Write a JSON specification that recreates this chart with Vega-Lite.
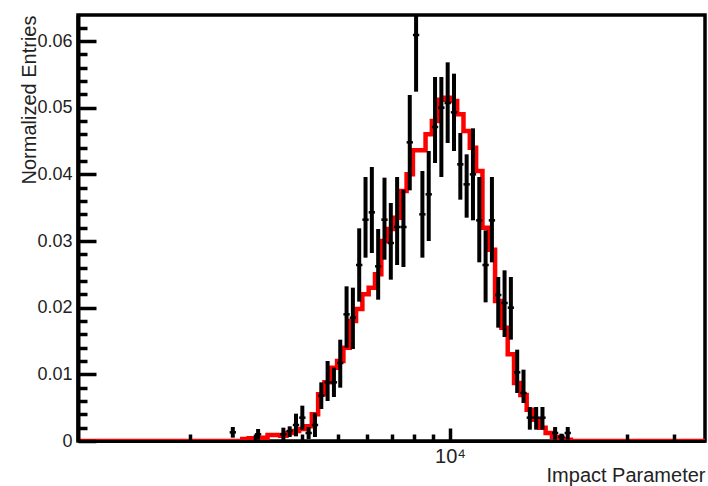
{
  "$schema": "https://vega.github.io/schema/vega-lite/v6.json",
  "width": 627,
  "height": 426,
  "autosize": {"type": "none"},
  "padding": {"left": 78, "top": 15, "right": 3, "bottom": 45},
  "background": "white",
  "config": {"view": {"stroke": "black", "strokeWidth": 3.5}, "font": "Liberation Sans"},
  "resolve": {"axis": {"x": "independent", "y": "independent"}},
  "datasets": {
    "hist": [
      {"x": 1000, "y": 0},
      {"x": 2765.1, "y": 0.0003},
      {"x": 2875.4, "y": 0.0004},
      {"x": 2990.1, "y": 0.0002},
      {"x": 3109.4, "y": 0.0005},
      {"x": 3233.5, "y": 0.0009},
      {"x": 3362.5, "y": 0.0009},
      {"x": 3496.7, "y": 0.0008},
      {"x": 3636.2, "y": 0.0012},
      {"x": 3781.3, "y": 0.0015},
      {"x": 3932.2, "y": 0.0018},
      {"x": 4089.1, "y": 0.0022},
      {"x": 4252.2, "y": 0.0040},
      {"x": 4421.9, "y": 0.0070},
      {"x": 4598.3, "y": 0.0088},
      {"x": 4781.8, "y": 0.0110},
      {"x": 4972.6, "y": 0.0120},
      {"x": 5171.0, "y": 0.0140},
      {"x": 5377.3, "y": 0.0180},
      {"x": 5591.8, "y": 0.0198},
      {"x": 5814.9, "y": 0.0220},
      {"x": 6046.9, "y": 0.0230},
      {"x": 6288.2, "y": 0.0250},
      {"x": 6539.1, "y": 0.0300},
      {"x": 6800.0, "y": 0.0318},
      {"x": 7071.3, "y": 0.0335},
      {"x": 7353.4, "y": 0.0375},
      {"x": 7646.8, "y": 0.0400},
      {"x": 7951.9, "y": 0.0436},
      {"x": 8269.1, "y": 0.0436},
      {"x": 8599.0, "y": 0.0460},
      {"x": 8942.1, "y": 0.0480},
      {"x": 9298.9, "y": 0.0512},
      {"x": 9669.9, "y": 0.0515},
      {"x": 10055.7, "y": 0.0510},
      {"x": 10456.9, "y": 0.0490},
      {"x": 10874.1, "y": 0.0465},
      {"x": 11307.9, "y": 0.0440},
      {"x": 11759.1, "y": 0.0405},
      {"x": 12228.2, "y": 0.0320},
      {"x": 12716.1, "y": 0.0287},
      {"x": 13223.4, "y": 0.0210},
      {"x": 13751.0, "y": 0.0170},
      {"x": 14299.6, "y": 0.0130},
      {"x": 14870.1, "y": 0.0087},
      {"x": 15463.4, "y": 0.0069},
      {"x": 16080.3, "y": 0.0047},
      {"x": 16721.9, "y": 0.0032},
      {"x": 17389.0, "y": 0.0020},
      {"x": 18082.8, "y": 0.0012},
      {"x": 18804.3, "y": 0.0006},
      {"x": 19554.5, "y": 0.0003},
      {"x": 20334.7, "y": 0.0002},
      {"x": 21146.0, "y": 0},
      {"x": 50000, "y": 0}
    ],
    "pts": [
      {"c": 2607.5, "lo": 2557.0, "hi": 2659.0, "y": 0.0013, "ylo": 0.0005, "yhi": 0.0021},
      {"c": 3049.2, "lo": 2990.1, "hi": 3109.4, "y": 0.0010, "ylo": 0.0002, "yhi": 0.0018},
      {"c": 3565.8, "lo": 3496.7, "hi": 3636.2, "y": 0.0010, "ylo": 0.0000, "yhi": 0.0020},
      {"c": 3708.0, "lo": 3636.2, "hi": 3781.3, "y": 0.0015, "ylo": 0.0006, "yhi": 0.0022},
      {"c": 3856.0, "lo": 3781.3, "hi": 3932.2, "y": 0.0024, "ylo": 0.0007, "yhi": 0.0041},
      {"c": 4009.9, "lo": 3932.2, "hi": 4089.1, "y": 0.0035, "ylo": 0.0017, "yhi": 0.0053},
      {"c": 4169.9, "lo": 4089.1, "hi": 4252.2, "y": 0.0012, "ylo": 0.0003, "yhi": 0.0021},
      {"c": 4336.2, "lo": 4252.2, "hi": 4421.9, "y": 0.0024, "ylo": 0.0006, "yhi": 0.0042},
      {"c": 4509.2, "lo": 4421.9, "hi": 4598.3, "y": 0.0068, "ylo": 0.0048, "yhi": 0.0088},
      {"c": 4689.1, "lo": 4598.3, "hi": 4781.8, "y": 0.0088, "ylo": 0.0060, "yhi": 0.0120},
      {"c": 4876.3, "lo": 4781.8, "hi": 4972.6, "y": 0.0088, "ylo": 0.0066, "yhi": 0.0110},
      {"c": 5070.8, "lo": 4972.6, "hi": 5171.0, "y": 0.0117, "ylo": 0.0080, "yhi": 0.0152},
      {"c": 5273.1, "lo": 5171.0, "hi": 5377.3, "y": 0.0190, "ylo": 0.0140, "yhi": 0.0232},
      {"c": 5483.5, "lo": 5377.3, "hi": 5591.8, "y": 0.0185, "ylo": 0.0138, "yhi": 0.0230},
      {"c": 5702.3, "lo": 5591.8, "hi": 5814.9, "y": 0.0264, "ylo": 0.0209, "yhi": 0.0319},
      {"c": 5929.8, "lo": 5814.9, "hi": 6046.9, "y": 0.0332, "ylo": 0.0275, "yhi": 0.0396},
      {"c": 6166.3, "lo": 6046.9, "hi": 6288.2, "y": 0.0343, "ylo": 0.0282, "yhi": 0.0411},
      {"c": 6412.4, "lo": 6288.2, "hi": 6539.1, "y": 0.0262, "ylo": 0.0212, "yhi": 0.0318},
      {"c": 6668.3, "lo": 6539.1, "hi": 6800.0, "y": 0.0332, "ylo": 0.0272, "yhi": 0.0395},
      {"c": 6934.3, "lo": 6800.0, "hi": 7071.3, "y": 0.0297, "ylo": 0.0242, "yhi": 0.0357},
      {"c": 7211.0, "lo": 7071.3, "hi": 7353.4, "y": 0.0321, "ylo": 0.0264, "yhi": 0.0396},
      {"c": 7498.7, "lo": 7353.4, "hi": 7646.8, "y": 0.0321, "ylo": 0.0261, "yhi": 0.0377},
      {"c": 7797.9, "lo": 7646.8, "hi": 7951.9, "y": 0.0448, "ylo": 0.0376, "yhi": 0.0519},
      {"c": 8109.0, "lo": 7951.9, "hi": 8269.1, "y": 0.0609, "ylo": 0.0524, "yhi": 0.0694},
      {"c": 8432.4, "lo": 8269.1, "hi": 8599.0, "y": 0.0340, "ylo": 0.0275, "yhi": 0.0405},
      {"c": 8768.9, "lo": 8599.0, "hi": 8942.1, "y": 0.0370, "ylo": 0.0300, "yhi": 0.0435},
      {"c": 9118.7, "lo": 8942.1, "hi": 9298.9, "y": 0.0471, "ylo": 0.0417, "yhi": 0.0546},
      {"c": 9482.6, "lo": 9298.9, "hi": 9669.9, "y": 0.0500, "ylo": 0.0396, "yhi": 0.0546},
      {"c": 9860.9, "lo": 9669.9, "hi": 10055.7, "y": 0.0507, "ylo": 0.0447, "yhi": 0.0568},
      {"c": 10254.3, "lo": 10055.7, "hi": 10456.9, "y": 0.0493, "ylo": 0.0435, "yhi": 0.0551},
      {"c": 10663.5, "lo": 10456.9, "hi": 10874.1, "y": 0.0415, "ylo": 0.0362, "yhi": 0.0462},
      {"c": 11088.9, "lo": 10874.1, "hi": 11307.9, "y": 0.0385, "ylo": 0.0335, "yhi": 0.0430},
      {"c": 11531.3, "lo": 11307.9, "hi": 11759.1, "y": 0.0400, "ylo": 0.0331, "yhi": 0.0469},
      {"c": 11991.4, "lo": 11759.1, "hi": 12228.2, "y": 0.0331, "ylo": 0.0268, "yhi": 0.0396},
      {"c": 12469.8, "lo": 12228.2, "hi": 12716.1, "y": 0.0264, "ylo": 0.0208, "yhi": 0.0316},
      {"c": 12967.3, "lo": 12716.1, "hi": 13223.4, "y": 0.0331, "ylo": 0.0268, "yhi": 0.0396},
      {"c": 13484.6, "lo": 13223.4, "hi": 13751.0, "y": 0.0219, "ylo": 0.0170, "yhi": 0.0246},
      {"c": 14022.6, "lo": 13751.0, "hi": 14299.6, "y": 0.0207, "ylo": 0.0156, "yhi": 0.0256},
      {"c": 14582.1, "lo": 14299.6, "hi": 14870.1, "y": 0.0200, "ylo": 0.0152, "yhi": 0.0246},
      {"c": 15163.8, "lo": 14870.1, "hi": 15463.4, "y": 0.0103, "ylo": 0.0072, "yhi": 0.0137},
      {"c": 15768.9, "lo": 15463.4, "hi": 16080.3, "y": 0.0072, "ylo": 0.0057, "yhi": 0.0107},
      {"c": 16397.9, "lo": 16080.3, "hi": 16721.9, "y": 0.0035, "ylo": 0.0017, "yhi": 0.0051},
      {"c": 17052.2, "lo": 16721.9, "hi": 17389.0, "y": 0.0035, "ylo": 0.0017, "yhi": 0.0051},
      {"c": 17732.5, "lo": 17389.0, "hi": 18082.8, "y": 0.0035, "ylo": 0.0017, "yhi": 0.0051},
      {"c": 19175.7, "lo": 18804.3, "hi": 19554.5, "y": 0.0012, "ylo": 0.0002, "yhi": 0.0021},
      {"c": 19940.8, "lo": 19554.5, "hi": 20334.7, "y": 0.0006, "ylo": 0.0001, "yhi": 0.0011},
      {"c": 20736.4, "lo": 20334.7, "hi": 21146.0, "y": 0.0012, "ylo": 0.0002, "yhi": 0.0021}
    ]
  },
  "layer": [
    {
      "data": {"name": "hist"},
      "mark": {"type": "line", "interpolate": "step-after", "color": "#ff0000", "strokeWidth": 4.5, "clip": true},
      "encoding": {
        "x": {
          "field": "x", "type": "quantitative",
          "scale": {"type": "log", "domain": [1000, 48500], "nice": false},
          "axis": {
            "orient": "bottom",
            "values": [10000],
            "title": "Impact Parameter",
            "titleFont": "Liberation Sans", "titleFontSize": 20, "titleFontWeight": "normal", "titleColor": "#222222",
            "titleAlign": "right", "titleAnchor": "end", "titleX": 627, "titleY": 40, "titleBaseline": "alphabetic",
            "domainColor": "black", "domainWidth": 3,
            "tickColor": "black", "tickWidth": 3.5, "tickSize": -13,
            "labelExpr": "'10⁴'",
            "labelFont": "Liberation Sans", "labelFontSize": 20, "labelColor": "#222222",
            "labelPadding": 18, "labelFlush": false, "labelOverlap": false,
            "grid": false, "zindex": 1
          }
        },
        "y": {
          "field": "y", "type": "quantitative",
          "scale": {"domain": [0, 0.0639], "nice": false, "zero": false},
          "axis": {
            "orient": "left",
            "values": [0, 0.01, 0.02, 0.03, 0.04, 0.05, 0.06],
            "title": "Normalized Entries",
            "titleFont": "Liberation Sans", "titleFontSize": 20, "titleFontWeight": "normal", "titleColor": "#222222",
            "titleX": -43, "titleY": 0, "titleAlign": "right", "titleBaseline": "alphabetic", "titleAngle": -90,
            "domainColor": "black", "domainWidth": 4,
            "tickColor": "black", "tickWidth": 3.5, "tickSize": -18,
            "labelExpr": "datum.value == 0 ? '0' : format(datum.value, '.2f')",
            "labelFont": "Liberation Sans", "labelFontSize": 18, "labelColor": "#222222",
            "labelPadding": 24, "labelFlush": false, "labelOverlap": false,
            "grid": false, "zindex": 1
          }
        }
      }
    },
    {
      "data": {"name": "pts"},
      "mark": {"type": "rule", "color": "black", "strokeWidth": 4, "clip": true},
      "encoding": {
        "x": {
          "field": "c", "type": "quantitative",
          "scale": {"type": "log", "domain": [1000, 48500], "nice": false},
          "axis": {
            "orient": "bottom",
            "values": [2000, 3000, 4000, 5000, 6000, 7000, 8000, 9000, 20000, 30000, 40000],
            "title": null, "labels": false, "domain": false,
            "tickColor": "black", "tickWidth": 3.5, "tickSize": -7,
            "grid": false, "zindex": 1
          }
        },
        "y": {
          "field": "ylo", "type": "quantitative",
          "scale": {"domain": [0, 0.0639], "nice": false, "zero": false},
          "axis": {
            "orient": "left",
            "values": [0.002, 0.004, 0.006, 0.008, 0.012, 0.014, 0.016, 0.018, 0.022, 0.024, 0.026, 0.028, 0.032, 0.034, 0.036, 0.038, 0.042, 0.044, 0.046, 0.048, 0.052, 0.054, 0.056, 0.058, 0.062],
            "title": null, "labels": false, "domain": false,
            "tickColor": "black", "tickWidth": 3.5, "tickSize": -9,
            "grid": false, "zindex": 1
          }
        },
        "y2": {"field": "yhi"}
      }
    },
    {
      "data": {"name": "pts"},
      "mark": {"type": "rule", "color": "black", "strokeWidth": 2.5, "clip": true},
      "encoding": {
        "x": {"field": "lo", "type": "quantitative", "scale": {"type": "log", "domain": [1000, 48500], "nice": false}, "axis": null},
        "x2": {"field": "hi"},
        "y": {"field": "y", "type": "quantitative", "scale": {"domain": [0, 0.0639], "nice": false, "zero": false}, "axis": null}
      }
    }
  ]
}
